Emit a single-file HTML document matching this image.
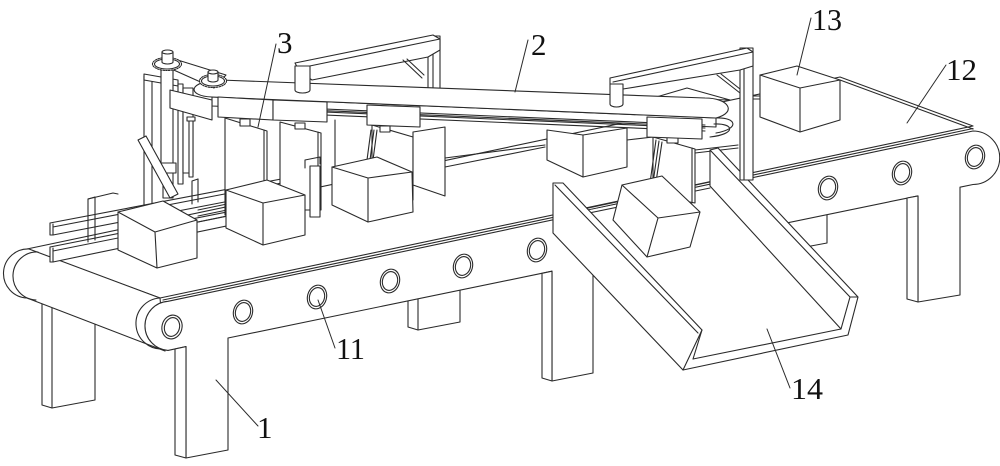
<!DOCTYPE html>
<html><head><meta charset="utf-8"><style>
html,body{margin:0;padding:0;background:#fff;width:1000px;height:466px;overflow:hidden}
svg{display:block}
</style></head><body>
<svg width="1000" height="466" viewBox="0 0 1000 466" xmlns="http://www.w3.org/2000/svg">
<rect width="1000" height="466" fill="#fff"/>
<g fill="#fff" stroke="#2a2a2a" stroke-width="1.1" stroke-linejoin="round" stroke-linecap="round">

<!-- back legs -->
<path d="M42,295 L42,405 L52,408 L95,400 L95,295 Z"/><path d="M52,297 L52,408" fill="none"/>
<path d="M408,275 L408,327 L418,330 L460,322 L460,275 Z"/><path d="M418,276 L418,330" fill="none"/>
<path d="M774,200 L774,248 L784,251 L827,243 L827,200 Z"/><path d="M784,200 L784,251" fill="none"/>

<!-- main belt top surface -->
<path d="M27,249 L840,77 L973,126 L160,298 Z"/>
<path d="M840,80 L973,129" fill="none"/>
<path d="M29,249 A24.5,24.5 0 0 0 27,298 L165,351 L160,298 Z"/>
<path d="M38,252 A23,23 0 0 0 36,300" fill="none"/>

<!-- mid back rails -->
<path d="M445,158 L545,145 M445,167 L545,147 M627,140 L653,137 M695,150 L738,145 M695,153 L738,148" fill="none"/>

<!-- left mechanism -->
<rect x="144" y="76" width="8" height="130"/>
<path d="M144,74 L178,80 L178,86 L144,80 Z"/>
<rect x="178" y="84" width="5" height="100"/>
<rect x="183" y="88" width="10" height="85"/>
<rect x="161" y="66" width="12" height="100"/>
<rect x="158" y="163" width="18" height="10"/>
<rect x="163" y="173" width="10" height="25"/>
<path d="M138,140 L146,136 L178,194 L170,198 Z"/>
<rect x="189" y="117" width="4" height="60"/>
<path d="M187,117 L195,117 L195,121 L187,121 Z"/>

<!-- feeder rails -->
<path d="M50,223 L318,172 L318,184 L53,235 L50,235 Z"/>
<path d="M53,227 L318,176 M53,224 L53,235" fill="none"/>
<path d="M50,247 L318,194 L318,207 L53,262 L50,262 Z"/>
<path d="M53,251 L318,198 M53,248 L53,262" fill="none"/>
<path d="M88,242 L88,199 L95,197 L95,240" fill="none"/>
<path d="M88,199 L113,193 L118,194" fill="none"/>
<path d="M192,204 L192,181 L198,179 L198,202" fill="none"/>
<path d="M198,210 L227,204 M198,216 L227,210 M198,222 L227,216" fill="none"/>

<!-- left gantry post -->
<rect x="428" y="36" width="12" height="56"/>
<path d="M433,38 L433,92" fill="none"/>

<!-- hanging plates -->
<path d="M225,118 L267,131 L267,215 L225,215 Z"/><path d="M264,130 L264,215" fill="none"/>
<rect x="240" y="119" width="10" height="7"/>
<path d="M280,122 L321,133 L321,210 L280,210 Z"/><path d="M318,132 L318,210" fill="none"/>
<rect x="295" y="123" width="10" height="6"/>
<path d="M335,120 L335,168" fill="none"/>
<path d="M372,125 L413,137 L413,200 L372,200 Z"/>
<rect x="380" y="126" width="10" height="6"/>
<path d="M413,132 L445,127 L445,196 L413,185 Z"/>
<path d="M371,130 L367,160 M374,130 L370,160 M377,130 L373,160" fill="none"/>

<!-- post near plate 3 -->
<rect x="310" y="166" width="10" height="51"/>
<path d="M305,168 L305,160 L320,157 L320,164" fill="none"/>

<!-- box D -->
<path d="M547,130 L583,135 L627,128 L627,167 L583,177 L547,160 Z"/>
<path d="M583,135 L583,177" fill="none"/>
<!-- box C -->
<path d="M332,167 L377,157 L412,172 L413,212 L368,222 L332,205 Z"/>
<path d="M332,167 L368,178 L412,172 M368,178 L368,222" fill="none"/>
<!-- box B -->
<path d="M226,190 L267,180 L305,195 L305,235 L263,245 L226,228 Z"/>
<path d="M226,190 L263,203 L305,195 M263,203 L263,245" fill="none"/>
<!-- box A -->
<path d="M118,212 L163,201 L197,220 L197,258 L157,268 L118,250 Z"/>
<path d="M118,212 L155,232 L197,220 M155,232 L157,268" fill="none"/>
<!-- box 13 -->
<path d="M760,75 L797,66 L840,80 L840,120 L800,132 L760,117 Z"/>
<path d="M760,75 L800,88 L840,80 M800,88 L800,132" fill="none"/>

<!-- front roller hidden arc -->
<path d="M160,298 A25,25 0 0 0 163,349" fill="none"/>
<!-- front frame face with legs -->
<path d="M168,301.3 L973,131 A26.75,26.75 0 0 1 973,184.5 L960,187.2 L960,295 L918,302 L918,195.9 L593,262.8 L593,373 L552,381 L552,271.2 L228,338 L228,450 L186,458 L186,346.6 L168,350.4 A24.6,24.6 0 0 1 168,301.3 Z"/>
<path d="M163,300 L973,128.5" fill="none"/>
<path d="M175,349 L175,455 L186,458 L186,346.6 Z"/>
<path d="M542,273.3 L542,378 L552,381 L552,271.2 Z"/>
<path d="M907,198 L907,299 L918,302 L918,195.9 Z"/>

<!-- holes -->
<g transform="translate(172,327) rotate(15)"><ellipse rx="10" ry="12"/><ellipse rx="7.5" ry="9.5"/></g>
<g transform="translate(243,312) rotate(15)"><ellipse rx="9.5" ry="12"/><ellipse rx="7.5" ry="9.5"/></g>
<g transform="translate(317,297) rotate(15)"><ellipse rx="9.5" ry="12"/><ellipse rx="7.5" ry="9.5"/></g>
<g transform="translate(390,281) rotate(15)"><ellipse rx="9.5" ry="12"/><ellipse rx="7.5" ry="9.5"/></g>
<g transform="translate(463,266) rotate(15)"><ellipse rx="9.5" ry="12"/><ellipse rx="7.5" ry="9.5"/></g>
<g transform="translate(537,250) rotate(15)"><ellipse rx="9.5" ry="12"/><ellipse rx="7.5" ry="9.5"/></g>
<g transform="translate(828,188) rotate(15)"><ellipse rx="9.5" ry="12"/><ellipse rx="7.5" ry="9.5"/></g>
<g transform="translate(902,173) rotate(15)"><ellipse rx="9.5" ry="12"/><ellipse rx="7.5" ry="9.5"/></g>
<g transform="translate(975,157) rotate(15)"><ellipse rx="9.5" ry="12"/><ellipse rx="7.5" ry="9.5"/></g>

<!-- chute -->
<path d="M560,216 L710,186 L710,150 L718,148 L858,297 L848,335 L683,370 L553,233 Z" stroke="none"/>
<path d="M560,214 L710,182 M560,219 L710,188" fill="none"/>
<path d="M710,150 L850,297 M718,148 L858,297 M710,150 L718,148 M710,150 L710,186 M710,186 L841,329 M693,359 L841,329 M841,329 L850,297 L858,297 L848,335 L683,370" fill="none"/>
<!-- plate E -->
<path d="M653,137 L695,149 L695,203 L653,195 Z"/>
<path d="M692,148 L692,203" fill="none"/>
<rect x="667" y="137" width="11" height="6"/>
<path d="M656,140 L650,183 M659,141 L653,183 M662,142 L656,182" fill="none"/>
<!-- box E -->
<path d="M622,185 L662,176 L700,212 L690,247 L647,257 L613,220 Z"/>
<path d="M622,185 L658,218 L700,212 M658,218 L647,257" fill="none"/>
<!-- left wall -->
<path d="M553,183 L563,183 L702,330 L683,370 L553,233 Z"/>
<path d="M555,185 L698,333 M702,330 L693,359" fill="none"/>

<!-- shape behind belt 2 right -->
<path d="M653,98 L687,88 L730,100 Z"/>

<!-- belt 2 -->
<path d="M212,97 L716,118 L716,127 L212,106 Z"/>
<path d="M230,105 L705,125 M230,108 L705,128 M230,111 L705,131" fill="none"/>
<path d="M716,118 C737,117 740,129 716,133 M714,124 C734,123 737,134 710,137" fill="none"/>
<path d="M220,80 L705,98 C728,98 738,112 716,118 L212,97 C186,96 188,81 220,80 Z"/>
<!-- carriages -->
<path d="M170,90 L212,100 L212,120 L170,108 Z"/>
<path d="M218,97 L273,100 L273,120 L218,117 Z"/>
<path d="M273,100 L327,102 L327,122 L273,120 Z"/>
<path d="M367,105 L420,107 L420,127 L367,125 Z"/>
<path d="M647,117 L702,119 L702,139 L647,137 Z"/>

<!-- arm and sprockets -->
<path d="M158,63 L168,57 L226,75 L214,88 Z"/>
<ellipse cx="167" cy="64" rx="14.5" ry="6.5" stroke-dasharray="1.6 1.2"/>
<ellipse cx="167" cy="64" rx="12.5" ry="5"/>
<path d="M162,52 L162,62 A5.5,2 0 0 0 173,62 L173,52 Z"/>
<ellipse cx="167.5" cy="52" rx="5.5" ry="2"/>
<ellipse cx="213" cy="81" rx="13.5" ry="6.5" stroke-dasharray="1.6 1.2"/>
<ellipse cx="213" cy="81" rx="11.5" ry="5"/>
<path d="M208,72 L208,80 A5,2 0 0 0 218,80 L218,72 Z"/>
<ellipse cx="213" cy="72" rx="5" ry="2"/>

<!-- left gantry beam -->
<path d="M295,63 L433,35 L440,39 L440,50 L428,57 L312,80 L300,72 Z"/>
<path d="M300,68 L440,39" fill="none"/>
<path d="M403,60 L422,78 M407,59 L424,75" fill="none"/>
<path d="M295,66 L310,66 L310,90 A7.5,3 0 0 1 295,90 Z"/>

<!-- right gantry -->
<rect x="740" y="48" width="13" height="132"/>
<path d="M744,55 L744,180" fill="none"/>
<path d="M610,78 L747,48 L753,52 L753,66 L740,70 L623,89 L610,84 Z"/>
<path d="M613,82 L753,52" fill="none"/>
<path d="M717,75 L740,93 M721,74 L740,89" fill="none"/>
<path d="M610,84 L623,84 L623,104 A6.5,3 0 0 1 610,104 Z"/>
<path d="M753,96 L760,96 M753,99 L760,99" fill="none"/>

<!-- leader lines -->
<g fill="none" stroke-width="1">
<path d="M276,44 L258,127"/>
<path d="M528,40 L515,92"/>
<path d="M811,18 L797,75"/>
<path d="M946,65 L907,123"/>
<path d="M335,348 L318,300"/>
<path d="M258,426 L216,380"/>
<path d="M790,388 L767,329"/>
</g>
</g>

<g font-family="'Liberation Serif', 'DejaVu Serif', serif" font-size="31" fill="#111">
<text x="277" y="53">3</text>
<text x="531" y="55">2</text>
<text x="812" y="30" textLength="30" lengthAdjust="spacingAndGlyphs">13</text>
<text x="946" y="80" textLength="31" lengthAdjust="spacingAndGlyphs">12</text>
<text x="336" y="359" textLength="29" lengthAdjust="spacingAndGlyphs">11</text>
<text x="257" y="438">1</text>
<text x="791" y="399" textLength="32" lengthAdjust="spacingAndGlyphs">14</text>
</g>
</svg>
</body></html>
